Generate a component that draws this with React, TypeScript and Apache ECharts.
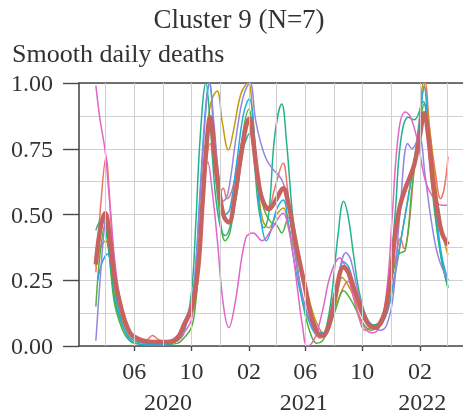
import React, { useEffect, useRef } from 'react';
import * as echarts from 'echarts';

const TITLE = 'Cluster 9 (N=7)';
const SUBTITLE = 'Smooth daily deaths';
const X_MIN = '2020-02-04';
const X_MAX = '2022-05-04';
const xTickDates = ['2020-06-01', '2020-10-01', '2021-02-01', '2021-06-01', '2021-10-01', '2022-02-01'];
const xGridDates = [
  '2020-04-01', '2020-06-01', '2020-08-01', '2020-10-01', '2020-12-01',
  '2021-02-01', '2021-04-01', '2021-06-01', '2021-08-01', '2021-10-01', '2021-12-01',
  '2022-02-01', '2022-04-01',
];
const yearLabels = ['2020', '2021', '2022'];
const yearLabelDates = ['2020-08-12', '2021-05-29', '2022-02-06'];

type P = [string, number];

const seriesRed: P[] = [
  ['2020-03-11', 0.28], ['2020-03-22', 0.55], ['2020-04-02', 0.72], ['2020-04-08', 0.6], ['2020-04-13', 0.45],
  ['2020-04-22', 0.26], ['2020-05-03', 0.15], ['2020-05-13', 0.08], ['2020-05-25', 0.04], ['2020-06-10', 0.02],
  ['2020-06-25', 0.02], ['2020-07-10', 0.04], ['2020-07-22', 0.025], ['2020-08-10', 0.015], ['2020-09-01', 0.025],
  ['2020-09-15', 0.08], ['2020-09-28', 0.12], ['2020-10-08', 0.15], ['2020-10-20', 0.4], ['2020-11-01', 0.68],
  ['2020-11-10', 0.77], ['2020-11-20', 0.66], ['2020-11-30', 0.58], ['2020-12-08', 0.6], ['2020-12-16', 0.56],
  ['2020-12-28', 0.6], ['2021-01-10', 0.72], ['2021-01-25', 0.83], ['2021-02-03', 0.85], ['2021-02-12', 0.75],
  ['2021-02-22', 0.62], ['2021-03-05', 0.55], ['2021-03-15', 0.53], ['2021-03-28', 0.6], ['2021-04-15', 0.695],
  ['2021-04-24', 0.6], ['2021-05-03', 0.45], ['2021-05-12', 0.33], ['2021-05-22', 0.22], ['2021-06-03', 0.13],
  ['2021-06-18', 0.06], ['2021-07-03', 0.03], ['2021-07-15', 0.04], ['2021-07-25', 0.08], ['2021-08-10', 0.17],
  ['2021-08-25', 0.235], ['2021-09-03', 0.245], ['2021-09-13', 0.18], ['2021-09-25', 0.1], ['2021-10-06', 0.06],
  ['2021-10-20', 0.07], ['2021-11-05', 0.09], ['2021-11-22', 0.17], ['2021-12-08', 0.3], ['2021-12-22', 0.41],
  ['2021-12-29', 0.37], ['2022-01-08', 0.45], ['2022-01-20', 0.68], ['2022-02-01', 0.88], ['2022-02-12', 1.0],
  ['2022-02-22', 0.82], ['2022-03-06', 0.66], ['2022-03-17', 0.56], ['2022-03-25', 0.6], ['2022-04-02', 0.72],
];

const seriesGold: P[] = [
  ['2020-03-11', 0.3], ['2020-03-20', 0.37], ['2020-04-01', 0.4], ['2020-04-10', 0.33], ['2020-04-20', 0.2],
  ['2020-05-02', 0.12], ['2020-05-15', 0.06], ['2020-06-01', 0.03], ['2020-06-20', 0.02], ['2020-07-15', 0.015],
  ['2020-08-10', 0.015], ['2020-09-01', 0.03], ['2020-09-15', 0.09], ['2020-09-25', 0.13], ['2020-10-05', 0.2],
  ['2020-10-15', 0.33], ['2020-10-25', 0.58], ['2020-11-05', 0.85], ['2020-11-14', 0.94], ['2020-11-25', 0.97],
  ['2020-12-06', 0.85], ['2020-12-19', 0.745], ['2020-12-30', 0.82], ['2021-01-15', 0.96], ['2021-01-30', 1.0],
  ['2021-02-08', 0.9], ['2021-02-20', 0.62], ['2021-03-02', 0.48], ['2021-03-15', 0.45], ['2021-04-01', 0.5],
  ['2021-04-15', 0.525], ['2021-04-25', 0.47], ['2021-05-06', 0.38], ['2021-05-20', 0.32], ['2021-06-01', 0.25],
  ['2021-06-12', 0.16], ['2021-06-25', 0.09], ['2021-07-10', 0.05], ['2021-07-22', 0.07], ['2021-08-05', 0.16],
  ['2021-08-19', 0.26], ['2021-09-01', 0.23], ['2021-09-12', 0.19], ['2021-09-26', 0.13], ['2021-10-10', 0.09],
  ['2021-10-25', 0.08], ['2021-11-10', 0.09], ['2021-11-25', 0.14], ['2021-12-10', 0.27], ['2021-12-25', 0.43],
  ['2022-01-10', 0.6], ['2022-01-27', 0.78], ['2022-02-09', 1.0], ['2022-02-20', 0.85], ['2022-03-08', 0.59],
  ['2022-03-20', 0.44], ['2022-04-02', 0.345],
];

const seriesGreen: P[] = [
  ['2020-03-11', 0.15], ['2020-03-20', 0.35], ['2020-03-31', 0.46], ['2020-04-06', 0.4], ['2020-04-12', 0.28],
  ['2020-04-20', 0.16], ['2020-05-01', 0.09], ['2020-05-13', 0.04], ['2020-06-01', 0.01], ['2020-07-01', 0.005],
  ['2020-08-01', 0.005], ['2020-09-01', 0.01], ['2020-09-15', 0.03], ['2020-10-01', 0.07], ['2020-10-10', 0.16],
  ['2020-10-20', 0.38], ['2020-11-01', 0.72], ['2020-11-10', 0.87], ['2020-11-20', 0.68], ['2020-12-01', 0.49],
  ['2020-12-12', 0.4], ['2020-12-22', 0.43], ['2021-01-06', 0.6], ['2021-01-20', 0.82], ['2021-02-01', 0.9],
  ['2021-02-10', 0.8], ['2021-02-20', 0.62], ['2021-03-05', 0.52], ['2021-03-20', 0.47], ['2021-04-01', 0.46],
  ['2021-04-12', 0.43], ['2021-04-26', 0.49], ['2021-05-06', 0.41], ['2021-05-16', 0.29], ['2021-05-26', 0.17],
  ['2021-06-10', 0.06], ['2021-06-26', 0.01], ['2021-07-08', 0.02], ['2021-07-20', 0.06], ['2021-08-05', 0.14],
  ['2021-08-22', 0.21], ['2021-09-05', 0.18], ['2021-09-20', 0.13], ['2021-10-05', 0.08], ['2021-10-20', 0.06],
  ['2021-11-05', 0.08], ['2021-11-20', 0.15], ['2021-12-05', 0.28], ['2021-12-18', 0.35], ['2022-01-01', 0.365],
  ['2022-01-15', 0.6], ['2022-02-01', 0.85], ['2022-02-10', 0.92], ['2022-02-20', 0.74], ['2022-03-05', 0.5],
  ['2022-03-20', 0.32], ['2022-04-02', 0.22],
];

const seriesTeal: P[] = [
  ['2020-03-11', 0.44], ['2020-03-18', 0.47], ['2020-03-26', 0.48], ['2020-04-03', 0.42], ['2020-04-12', 0.3],
  ['2020-04-20', 0.18], ['2020-05-02', 0.1], ['2020-05-15', 0.05], ['2020-06-01', 0.02], ['2020-07-01', 0.01],
  ['2020-08-01', 0.01], ['2020-09-01', 0.02], ['2020-09-15', 0.05], ['2020-10-01', 0.2], ['2020-10-10', 0.45],
  ['2020-10-20', 0.8], ['2020-11-01', 1.0], ['2020-11-10', 0.85], ['2020-11-20', 0.6], ['2020-12-01', 0.46],
  ['2020-12-12', 0.42], ['2020-12-22', 0.45], ['2021-01-06', 0.58], ['2021-01-20', 0.75], ['2021-02-03', 0.81],
  ['2021-02-12', 0.7], ['2021-02-22', 0.52], ['2021-03-05', 0.45], ['2021-03-15', 0.5], ['2021-03-28', 0.8],
  ['2021-04-12', 0.92], ['2021-04-22', 0.78], ['2021-05-05', 0.5], ['2021-05-15', 0.38], ['2021-05-25', 0.28],
  ['2021-06-10', 0.15], ['2021-06-25', 0.06], ['2021-07-06', 0.04], ['2021-07-16', 0.07], ['2021-07-28', 0.2],
  ['2021-08-10', 0.42], ['2021-08-22', 0.55], ['2021-09-01', 0.49], ['2021-09-12', 0.35], ['2021-09-25', 0.2],
  ['2021-10-10', 0.11], ['2021-10-25', 0.08], ['2021-11-10', 0.1], ['2021-11-25', 0.22], ['2021-12-10', 0.5],
  ['2021-12-22', 0.78], ['2022-01-07', 0.87], ['2022-01-20', 0.86], ['2022-02-08', 0.93], ['2022-02-20', 0.76],
  ['2022-03-05', 0.52], ['2022-03-18', 0.34], ['2022-04-02', 0.225],
];

const seriesBlue: P[] = [
  ['2020-03-15', 0.25], ['2020-03-25', 0.32], ['2020-04-05', 0.35], ['2020-04-15', 0.28], ['2020-04-25', 0.17],
  ['2020-05-05', 0.09], ['2020-05-20', 0.03], ['2020-06-05', 0.01], ['2020-07-01', 0.005], ['2020-08-01', 0.005],
  ['2020-09-01', 0.02], ['2020-09-15', 0.06], ['2020-10-01', 0.15], ['2020-10-10', 0.3], ['2020-10-20', 0.6],
  ['2020-11-01', 0.92], ['2020-11-09', 1.0], ['2020-11-18', 0.8], ['2020-12-01', 0.58], ['2020-12-12', 0.5],
  ['2020-12-22', 0.52], ['2021-01-06', 0.7], ['2021-01-20', 0.88], ['2021-02-02', 0.94], ['2021-02-10', 0.85],
  ['2021-02-20', 0.6], ['2021-03-01', 0.45], ['2021-03-10', 0.4], ['2021-03-20', 0.44], ['2021-04-01', 0.52],
  ['2021-04-15', 0.555], ['2021-04-25', 0.48], ['2021-05-05', 0.36], ['2021-05-15', 0.26], ['2021-05-25', 0.18],
  ['2021-06-10', 0.09], ['2021-06-25', 0.05], ['2021-07-10', 0.05], ['2021-07-20', 0.08], ['2021-08-05', 0.2],
  ['2021-08-22', 0.32], ['2021-09-02', 0.3], ['2021-09-15', 0.22], ['2021-10-01', 0.13], ['2021-10-15', 0.08],
  ['2021-10-28', 0.07], ['2021-11-10', 0.08], ['2021-11-25', 0.14], ['2021-12-10', 0.28], ['2021-12-22', 0.4],
  ['2022-01-01', 0.5], ['2022-01-15', 0.65], ['2022-01-29', 0.82], ['2022-02-10', 0.985], ['2022-02-22', 0.72],
  ['2022-03-10', 0.47], ['2022-03-20', 0.34], ['2022-04-02', 0.25],
];

const seriesPurple: P[] = [
  ['2020-03-11', 0.02], ['2020-03-20', 0.25], ['2020-03-31', 0.48], ['2020-04-05', 0.5], ['2020-04-12', 0.4],
  ['2020-04-20', 0.27], ['2020-05-01', 0.16], ['2020-05-12', 0.09], ['2020-05-25', 0.04], ['2020-06-10', 0.02],
  ['2020-07-01', 0.01], ['2020-08-01', 0.01], ['2020-09-01', 0.04], ['2020-09-15', 0.09], ['2020-10-01', 0.17],
  ['2020-10-10', 0.3], ['2020-10-20', 0.58], ['2020-11-01', 0.9], ['2020-11-08', 1.0], ['2020-11-18', 0.85],
  ['2020-11-28', 0.65], ['2020-12-08', 0.55], ['2020-12-18', 0.58], ['2021-01-05', 0.8], ['2021-01-20', 0.95],
  ['2021-02-03', 1.0], ['2021-02-15', 0.86], ['2021-02-25', 0.78], ['2021-03-10', 0.71], ['2021-03-25', 0.67],
  ['2021-04-05', 0.65], ['2021-04-15', 0.62], ['2021-04-25', 0.56], ['2021-05-05', 0.42], ['2021-05-15', 0.3],
  ['2021-05-25', 0.2], ['2021-06-10', 0.1], ['2021-06-25', 0.05], ['2021-07-10', 0.04], ['2021-07-20', 0.07],
  ['2021-08-05', 0.2], ['2021-08-27', 0.355], ['2021-09-06', 0.33], ['2021-09-20', 0.22], ['2021-10-05', 0.13],
  ['2021-10-20', 0.08], ['2021-11-08', 0.06], ['2021-11-22', 0.08], ['2021-12-06', 0.19], ['2021-12-20', 0.5],
  ['2022-01-06', 0.77], ['2022-01-15', 0.75], ['2022-01-30', 0.795], ['2022-02-12', 0.65], ['2022-02-25', 0.48],
  ['2022-03-12', 0.34], ['2022-04-02', 0.25],
];

const seriesMagenta: P[] = [
  ['2020-03-11', 0.99], ['2020-03-20', 0.86], ['2020-03-31', 0.74], ['2020-04-06', 0.62], ['2020-04-12', 0.5],
  ['2020-04-20', 0.33], ['2020-05-01', 0.18], ['2020-05-12', 0.09], ['2020-05-25', 0.04], ['2020-06-10', 0.02],
  ['2020-07-01', 0.01], ['2020-08-01', 0.01], ['2020-09-01', 0.02], ['2020-09-15', 0.05], ['2020-10-01', 0.1],
  ['2020-10-15', 0.3], ['2020-10-25', 0.55], ['2020-11-05', 0.7], ['2020-11-15', 0.58], ['2020-11-25', 0.41],
  ['2020-12-08', 0.16], ['2020-12-20', 0.07], ['2021-01-02', 0.16], ['2021-01-25', 0.41], ['2021-02-10', 0.43],
  ['2021-03-01', 0.4], ['2021-03-20', 0.44], ['2021-04-15', 0.505], ['2021-04-26', 0.45], ['2021-05-06', 0.35],
  ['2021-05-16', 0.21], ['2021-05-26', 0.08], ['2021-06-05', 0.0], ['2021-06-15', 0.01], ['2021-06-26', 0.05],
  ['2021-07-10', 0.15], ['2021-07-25', 0.27], ['2021-08-14', 0.335], ['2021-08-26', 0.3], ['2021-09-10', 0.2],
  ['2021-09-25', 0.11], ['2021-10-10', 0.06], ['2021-10-24', 0.05], ['2021-11-06', 0.07], ['2021-11-16', 0.13],
  ['2021-11-26', 0.28], ['2021-12-04', 0.5], ['2021-12-18', 0.82], ['2022-01-01', 0.89], ['2022-01-12', 0.87],
  ['2022-01-27', 0.78], ['2022-02-14', 0.62], ['2022-03-09', 0.545], ['2022-03-20', 0.535], ['2022-04-02', 0.535],
];

const seriesMean: P[] = [
  ['2020-03-11', 0.31], ['2020-03-20', 0.44], ['2020-03-31', 0.505], ['2020-04-06', 0.46], ['2020-04-11', 0.39],
  ['2020-04-20', 0.26], ['2020-05-02', 0.16], ['2020-05-13', 0.09], ['2020-05-23', 0.05], ['2020-06-01', 0.035],
  ['2020-06-20', 0.02], ['2020-07-15', 0.015], ['2020-08-10', 0.015], ['2020-09-01', 0.03], ['2020-09-15', 0.08],
  ['2020-10-01', 0.14], ['2020-10-15', 0.29], ['2020-10-25', 0.55], ['2020-11-03', 0.78], ['2020-11-10', 0.87],
  ['2020-11-20', 0.72], ['2020-12-01', 0.57], ['2020-12-10', 0.49], ['2020-12-20', 0.47], ['2021-01-01', 0.56],
  ['2021-01-12', 0.69], ['2021-01-25', 0.83], ['2021-02-02', 0.865], ['2021-02-10', 0.78], ['2021-02-20', 0.64],
  ['2021-03-01', 0.56], ['2021-03-15', 0.52], ['2021-04-01', 0.56], ['2021-04-15', 0.6], ['2021-04-25', 0.55],
  ['2021-05-10', 0.41], ['2021-05-20', 0.32], ['2021-06-01', 0.22], ['2021-06-10', 0.14], ['2021-06-20', 0.08],
  ['2021-07-05', 0.04], ['2021-07-15', 0.05], ['2021-07-25', 0.1], ['2021-08-05', 0.2], ['2021-08-22', 0.3],
  ['2021-09-01', 0.28], ['2021-09-15', 0.21], ['2021-10-01', 0.13], ['2021-10-15', 0.08], ['2021-10-28', 0.07],
  ['2021-11-10', 0.09], ['2021-11-20', 0.14], ['2021-12-01', 0.27], ['2021-12-10', 0.42], ['2021-12-20', 0.53],
  ['2022-01-01', 0.6], ['2022-01-10', 0.64], ['2022-01-20', 0.69], ['2022-02-01', 0.8], ['2022-02-10', 0.885],
  ['2022-02-20', 0.78], ['2022-03-01', 0.62], ['2022-03-10', 0.52], ['2022-03-20', 0.43], ['2022-04-02', 0.385],
];

const thinSeries: { name: string; color: string; data: P[] }[] = [
  { name: 'A', color: '#f0736b', data: seriesRed },
  { name: 'B', color: '#c49a10', data: seriesGold },
  { name: 'C', color: '#53b03a', data: seriesGreen },
  { name: 'D', color: '#22b38c', data: seriesTeal },
  { name: 'E', color: '#22ace6', data: seriesBlue },
  { name: 'F', color: '#9486e0', data: seriesPurple },
  { name: 'G', color: '#e265c8', data: seriesMagenta },
];

const FONT = 'Liberation Serif';
const TEXT = '#333333';
const AXIS = '#4a4a4a';
const GRID = '#d0d0d0';

const ts = (s: string) => {
  const [y, m, d] = s.split('-').map(Number);
  return Date.UTC(y, m - 1, d);
};

export default function App() {
  const ref = useRef<HTMLDivElement>(null);
  useEffect(() => {
    if (!ref.current) return;
    const chart = echarts.init(ref.current, undefined, { renderer: 'svg' });
    const lineSeries: any[] = thinSeries.map((s) => ({
      name: s.name,
      type: 'line',
      data: s.data.map(([d, v]) => [ts(d), v]),
      smooth: 0.4,
      showSymbol: false,
      symbol: 'none',
      z: 3,
      lineStyle: { color: s.color, width: 1.5 },
      itemStyle: { color: s.color },
    }));
    chart.setOption({
      animation: false,
      textStyle: { fontFamily: FONT },
      grid: { left: 79, top: 83, right: 0, bottom: 70, containLabel: false },
      xAxis: [
        {
          type: 'value',
          min: ts(X_MIN),
          max: ts(X_MAX),
          axisLine: { show: true, lineStyle: { color: AXIS, width: 1.6 } },
          axisTick: { show: true, length: 5, customValues: xTickDates.map(ts), lineStyle: { color: AXIS, width: 1.4 } },
          axisLabel: {
            show: true,
            customValues: xTickDates.map(ts),
            fontFamily: FONT,
            fontSize: 24,
            color: TEXT,
            margin: 13,
            formatter: (v: number) => String(new Date(v).getUTCMonth() + 1).padStart(2, '0'),
          },
          splitLine: { show: false },
        },
        {
          type: 'value',
          position: 'top',
          min: 0,
          max: 1,
          axisLine: { show: true, lineStyle: { color: AXIS, width: 1.6 } },
          axisTick: { show: false },
          axisLabel: { show: false },
          splitLine: { show: false },
        },
      ],
      yAxis: {
        type: 'value',
        min: 0,
        max: 1,
        interval: 0.25,
        axisLine: { show: true, lineStyle: { color: AXIS, width: 1.6 } },
        axisTick: { show: true, length: 16, lineStyle: { color: AXIS, width: 1.4 } },
        axisLabel: {
          fontFamily: FONT,
          fontSize: 24,
          color: TEXT,
          margin: 26,
          formatter: (v: number) => v.toFixed(2),
        },
        splitLine: { show: true, lineStyle: { color: GRID, width: 1 } },
        minorTick: { show: false, splitNumber: 2 },
        minorSplitLine: { show: true, lineStyle: { color: GRID, width: 1 } },
      },
      series: [
        {
          type: 'line',
          data: [[ts(X_MIN), null]],
          z: 1,
          silent: true,
          symbol: 'none',
          markLine: {
            silent: true,
            symbol: ['none', 'none'],
            label: { show: false },
            animation: false,
            lineStyle: { color: GRID, width: 1, type: 'solid' },
            data: xGridDates.map((d) => ({ xAxis: ts(d) })),
          },
        },
        ...lineSeries,
        {
          name: 'mean',
          type: 'line',
          data: seriesMean.map(([d, v]) => [ts(d), v]),
          smooth: 0.4,
          showSymbol: false,
          symbol: 'none',
          z: 4,
          lineStyle: { color: '#c7625e', width: 4.5 },
        },
      ],
    });
    const graphics: any[] = [
      {
        type: 'text',
        x: 239,
        y: 19,
        style: { text: TITLE, fontFamily: FONT, fontSize: 27, fill: TEXT, align: 'center', verticalAlign: 'middle' },
      },
      {
        type: 'text',
        x: 12,
        y: 53,
        style: { text: SUBTITLE, fontFamily: FONT, fontSize: 26, fill: TEXT, align: 'left', verticalAlign: 'middle' },
      },
    ];
    yearLabels.forEach((label, i) => {
      const px = chart.convertToPixel({ xAxisIndex: 0 }, ts(yearLabelDates[i])) as number;
      graphics.push({
        type: 'text',
        x: px,
        y: 402,
        style: { text: label, fontFamily: FONT, fontSize: 24, fill: TEXT, align: 'center', verticalAlign: 'middle' },
      });
    });
    chart.setOption({ graphic: graphics });
    return () => chart.dispose();
  }, []);
  return <div ref={ref} style={{ position: 'fixed', left: 0, top: 0, width: 463, height: 416 }} />;
}
